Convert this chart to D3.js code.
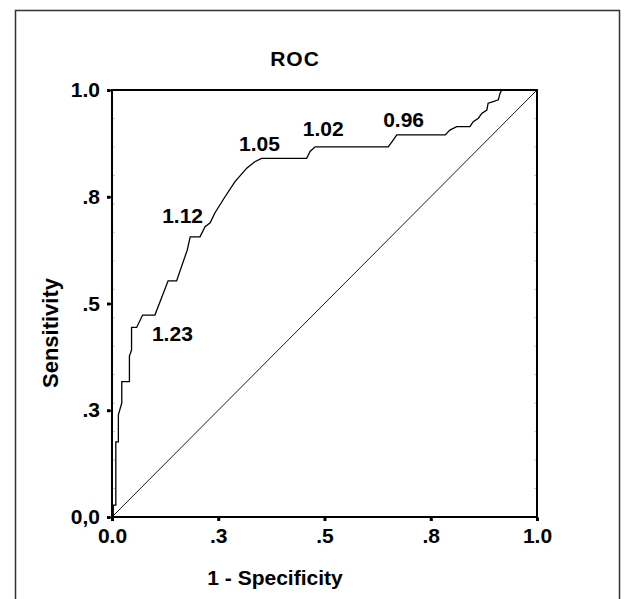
<!DOCTYPE html>
<html><head><meta charset="utf-8">
<script src="https://cdn.jsdelivr.net/npm/d3@7"></script>
<style>html,body{margin:0;padding:0;background:#fff;}</style>
</head><body>
<script>
// ROC curve points (1 - specificity, sensitivity)
const fpr = [0,0.003,0.003,0.009,0.009,0.015,0.015,0.023,0.023,0.041,0.041,0.046,0.046,0.058,0.072,0.101,0.132,0.152,0.177,0.184,0.207,0.219,0.231,0.242,0.266,0.289,0.317,0.336,0.352,0.458,0.466,0.478,0.650,0.662,0.670,0.784,0.795,0.811,0.842,0.850,0.862,0.870,0.882,0.885,0.897,0.909,0.913,0.917,1];
const tpr = [0,0,0.028,0.028,0.176,0.176,0.239,0.267,0.317,0.317,0.377,0.391,0.444,0.444,0.473,0.473,0.553,0.553,0.625,0.656,0.656,0.680,0.689,0.712,0.750,0.785,0.817,0.832,0.840,0.840,0.856,0.867,0.867,0.883,0.895,0.895,0.906,0.914,0.914,0.926,0.934,0.945,0.953,0.969,0.973,0.977,0.992,1.0,1.0];
// reference line
const refX = [0,1];
const refY = [0,1];
// cut-off labels and their anchor (fpr, tpr)
const thrLabels = ["1.23","1.12","1.05","1.02","0.96"];
const thrX = [0.094,0.118,0.299,0.449,0.638];
const thrY = [0.412,0.689,0.857,0.892,0.913];
// axes ticks
const xTicks = [0,0.25,0.5,0.75,1];
const xTickLabels = ["0.0",".3",".5",".8","1.0"];
const yTicks = [0,0.25,0.5,0.75,1];
const yTickLabels = ["0,0",".3",".5",".8","1.0"];
const title = "ROC";
const xTitle = "1 - Specificity";
const yTitle = "Sensitivity";

const W = 624, H = 599;
const L = 112, R = 537, T = 90, B = 517;
const font = "'Liberation Sans', Arial, Helvetica, sans-serif";

const svg = d3.select("body").append("svg").attr("width", W).attr("height", H);
svg.append("rect").attr("width", W).attr("height", H).attr("fill", "#fff");
// outer frame (clipped at bottom)
svg.append("path").attr("d", `M15.5,${H+2} V10.5 H619.5 V${H+2}`)
  .attr("fill", "none").attr("stroke", "#333").attr("stroke-width", 1.5);

const x = d3.scaleLinear().domain([0,1]).range([L,R]);
const y = d3.scaleLinear().domain([0,1]).range([B,T]);

// minor faint ticks inside left & right
const minor = d3.range(1,15).map(i => i/15);
svg.append("g").selectAll("line").data(minor).join("line")
  .attr("x1", L).attr("x2", L+3).attr("y1", d => y(d)).attr("y2", d => y(d))
  .attr("stroke", "#c8c8c8").attr("stroke-width", 1);
svg.append("g").selectAll("line").data(minor).join("line")
  .attr("x1", R).attr("x2", R-3).attr("y1", d => y(d)).attr("y2", d => y(d))
  .attr("stroke", "#c8c8c8").attr("stroke-width", 1);

// reference diagonal
const line = d3.line().x(d => x(d[0])).y(d => y(d[1]));
svg.append("path").datum(refX.map((v,i)=>[v,refY[i]])).attr("d", line)
  .attr("fill","none").attr("stroke","#000").attr("stroke-width",0.9);

// ROC curve
svg.append("path").datum(fpr.map((v,i)=>[v,tpr[i]])).attr("d", line)
  .attr("fill","none").attr("stroke","#000").attr("stroke-width",1.3).attr("stroke-linejoin","miter");

// plot frame
svg.append("rect").attr("x", L).attr("y", T).attr("width", R-L).attr("height", B-T)
  .attr("fill","none").attr("stroke","#000").attr("stroke-width",2);

// axes
const xAxis = d3.axisBottom(x).tickValues(xTicks).tickFormat((d,i)=>xTickLabels[i]).tickSize(4).tickPadding(7);
const gx = svg.append("g").attr("transform", `translate(0,${B})`).call(xAxis);
const yAxis = d3.axisLeft(y).tickValues(yTicks).tickFormat((d,i)=>yTickLabels[i]).tickSize(4).tickPadding(8);
const gy = svg.append("g").attr("transform", `translate(${L},0)`).call(yAxis);
[gx, gy].forEach(g => {
  g.select(".domain").remove();
  g.selectAll(".tick line").attr("stroke","#000").attr("stroke-width",2);
  g.selectAll(".tick text").attr("fill","#000").style("font-family", font)
    .style("font-size","21px").style("font-weight","bold");
});
gx.selectAll(".tick").append("rect").attr("x",-1.5).attr("y",1).attr("width",3).attr("height",3).attr("fill","#000");
gy.selectAll(".tick").append("rect").attr("x",-5).attr("y",-1.5).attr("width",3).attr("height",3).attr("fill","#000");

// threshold labels
svg.append("g").selectAll("text").data(thrLabels).join("text")
  .attr("x", (d,i) => x(thrX[i])).attr("y", (d,i) => y(thrY[i]))
  .text(d => d)
  .style("font-family", font).style("font-size","21px").style("font-weight","bold").attr("fill","#000");

// titles
svg.append("text").attr("x", 295).attr("y", 66).attr("text-anchor","middle")
  .style("font-family", font).style("font-size","21px").style("font-weight","bold")
  .style("letter-spacing","1px").text(title);
svg.append("text").attr("x", 275).attr("y", 585).attr("text-anchor","middle")
  .style("font-family", font).style("font-size","21px").style("font-weight","bold").text(xTitle);
svg.append("text").attr("transform","translate(58,333) rotate(-90)").attr("text-anchor","middle")
  .style("font-family", font).style("font-size","22px").style("font-weight","bold").text(yTitle);
</script>
</body></html>
